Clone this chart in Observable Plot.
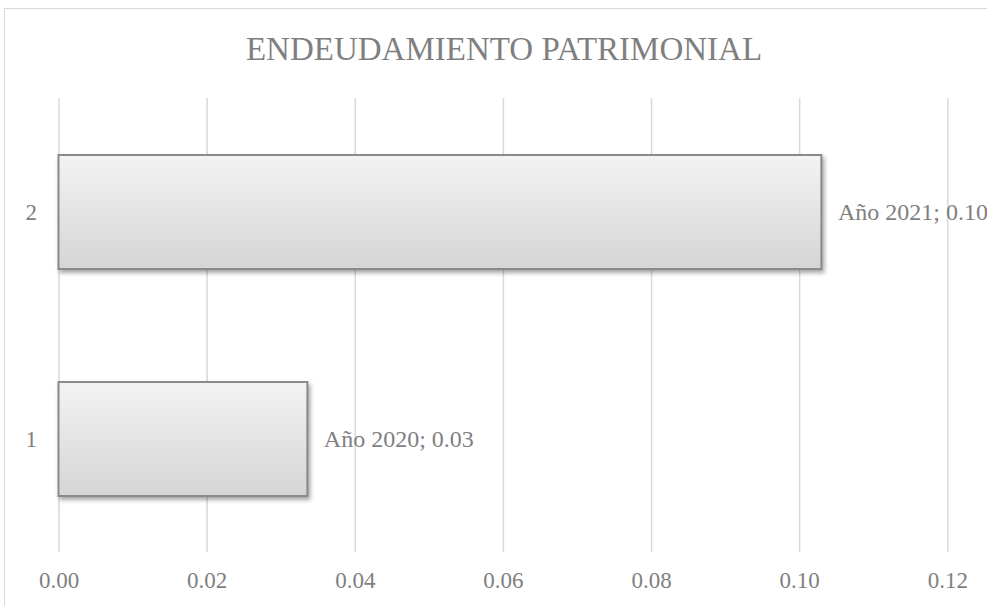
<!DOCTYPE html>
<html>
<head>
<meta charset="utf-8">
<script src="https://cdn.jsdelivr.net/npm/d3@7"></script>
<script src="https://cdn.jsdelivr.net/npm/@observablehq/plot@0.6"></script>
<style>
  html, body { margin: 0; padding: 0; background: #fff; }
  #wrap { position: relative; width: 987px; height: 606px; overflow: hidden; background: #fff; }
  #frame { position: absolute; left: 4px; top: 8px; width: 1000px; height: 620px; border: 1.5px solid #d9d9d9; box-sizing: border-box; }
  #title { position: absolute; left: 504px; top: 29px; transform: translateX(-50%); white-space: nowrap;
           font-family: "Liberation Serif", "Times New Roman", serif; font-size: 33px; color: #7f7f7f; line-height: 40px; }
  #chart { position: absolute; left: 0; top: 90px; }
</style>
</head>
<body>
<div id="wrap">
  <div id="frame"></div>
  <div id="title">ENDEUDAMIENTO PATRIMONIAL</div>
  <div id="chart"></div>
</div>
<script>
const categories = ["1", "2"];
const seriesNames = ["Año 2020", "Año 2021"];
const values = [0.0336, 0.1030];
const xTicks = [0, 0.02, 0.04, 0.06, 0.08, 0.10, 0.12];

const data = categories.map((c, i) => ({cat: c, name: seriesNames[i], value: values[i]}));

const font = "'Liberation Serif', 'Times New Roman', serif";
const gray = "#7f7f7f";

const plot = Plot.plot({
  width: 987,
  height: 516,
  marginTop: 8,
  marginBottom: 54,
  marginLeft: 58.5,
  marginRight: 39.7,
  style: {fontFamily: font, fontSize: "23px", color: gray, background: "transparent", overflow: "visible"},
  x: {domain: [0, 0.12], ticks: xTicks, tickFormat: d3.format(".2f"), label: null},
  y: {domain: ["2", "1"], paddingInner: 0.5, paddingOuter: 0.25, label: null},
  marks: [
    Plot.gridX(xTicks, {stroke: "#d9d9d9", strokeOpacity: 1, strokeWidth: 1.5}),
    Plot.axisX({ticks: xTicks, tickFormat: d3.format(".2f"), tickSize: 0, tickPadding: 19, fill: gray, label: null}),
    Plot.axisY({tickSize: 0, tickPadding: 22, fill: gray, label: null}),
    Plot.barX(data, {x: "value", y: "cat", fill: "url(#barGrad)", stroke: "#8a8a8a", strokeWidth: 2}),
    Plot.text(data, {x: "value", y: "cat", text: d => `${d.name}; ${d.value.toFixed(2)}`, textAnchor: "start", dx: 16, fill: gray, fontSize: 24})
  ]
});

// gradient + shadow for the bars
const ns = "http://www.w3.org/2000/svg";
const defs = document.createElementNS(ns, "defs");
const grad = document.createElementNS(ns, "linearGradient");
grad.setAttribute("id", "barGrad");
grad.setAttribute("x1", "0"); grad.setAttribute("y1", "0");
grad.setAttribute("x2", "0"); grad.setAttribute("y2", "1");
[["0%", "#f3f3f3"], ["100%", "#d5d5d5"]].forEach(([o, c]) => {
  const s = document.createElementNS(ns, "stop");
  s.setAttribute("offset", o); s.setAttribute("stop-color", c);
  grad.appendChild(s);
});
defs.appendChild(grad);
plot.insertBefore(defs, plot.firstChild);
plot.querySelectorAll('g[aria-label="bar"] rect').forEach(r => {
  r.style.filter = "drop-shadow(2px 3px 2px rgba(0,0,0,0.35))";
});

document.getElementById("chart").appendChild(plot);
</script>
</body>
</html>
